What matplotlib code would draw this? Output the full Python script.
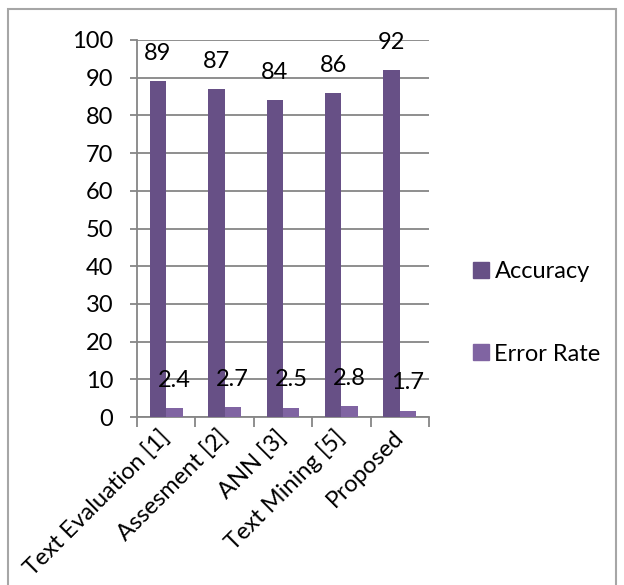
import matplotlib
matplotlib.use("Agg")
import matplotlib.pyplot as plt
from matplotlib.patches import Rectangle
from matplotlib.lines import Line2D
import numpy as np

categories = ["Text Evaluation [1]", "Assesment [2]", "ANN [3]", "Text Mining [5]", "Proposed"]
accuracy = [89, 87, 84, 86, 92]
error_rate = [2.4, 2.7, 2.5, 2.8, 1.7]
series_names = ["Accuracy", "Error Rate"]
y_ticks = [0, 10, 20, 30, 40, 50, 60, 70, 80, 90, 100]

acc_color = "#675086"
err_color = "#8064A2"
grid_color = "#868686"
fs = 17

plt.rcParams["font.family"] = ["Lato", "DejaVu Sans"]

fig = plt.figure(figsize=(6.24, 5.85), dpi=100)
fig.patches.append(Rectangle((7.5 / 624, -0.05), (616 - 7.5) / 624, 1.05 - 8.5 / 585,
                             transform=fig.transFigure, fill=False,
                             edgecolor="#a6a6a6", linewidth=1.5))

ax = fig.add_axes([137 / 624, 1 - 417 / 585, (429 - 137) / 624, (417 - 40) / 585])

x = np.arange(len(categories))
w = 0.28
b1 = ax.bar(x - w / 2, accuracy, w, color=acc_color, label=series_names[0], zorder=3)
b2 = ax.bar(x + w / 2, error_rate, w, color=err_color, label=series_names[1], zorder=3)

for bars, vals in ((b1, accuracy), (b2, error_rate)):
    for r, v in zip(bars, vals):
        ax.annotate(f"{v:g}", (r.get_x() + r.get_width() / 2, v),
                    xytext=(0, 20), textcoords="offset points",
                    ha="center", va="center", fontsize=fs, zorder=4,
                    annotation_clip=False)

ax.set_xlim(-0.5, len(categories) - 0.5)
ax.set_ylim(0, 100)
ax.set_yticks(y_ticks)
ax.yaxis.grid(True, color=grid_color, linewidth=1.3, zorder=0)
ax.set_axisbelow(True)

ax.set_xticks(np.arange(len(categories) + 1) - 0.5)
ax.set_xticklabels([])
ax.set_xticks(x, minor=True)
ax.set_xticklabels(categories, minor=True, rotation=45, ha="right", va="center",
                   rotation_mode="anchor", fontsize=fs)
ax.tick_params(axis="x", which="minor", length=0, pad=12)
ax.tick_params(axis="x", which="major", length=7, width=1.3, color=grid_color, direction="out")
ax.tick_params(axis="y", length=5, width=1.3, color=grid_color, labelsize=fs, pad=12)

for s in ("top", "right"):
    ax.spines[s].set_visible(False)
for s in ("left", "bottom"):
    ax.spines[s].set_color(grid_color)
    ax.spines[s].set_linewidth(1.3)

handles = [Line2D([], [], marker="s", linestyle="none", markersize=11,
                  markerfacecolor=c, markeredgecolor=c) for c in (acc_color, err_color)]
fig.legend(handles, series_names, loc="center left",
           bbox_to_anchor=(472 / 624, 1 - 313 / 585), frameon=False, fontsize=fs,
           labelspacing=2.6, handletextpad=0.15, borderpad=0, borderaxespad=0,
           handlelength=0.8)

fig.savefig("out.png", dpi=100)
